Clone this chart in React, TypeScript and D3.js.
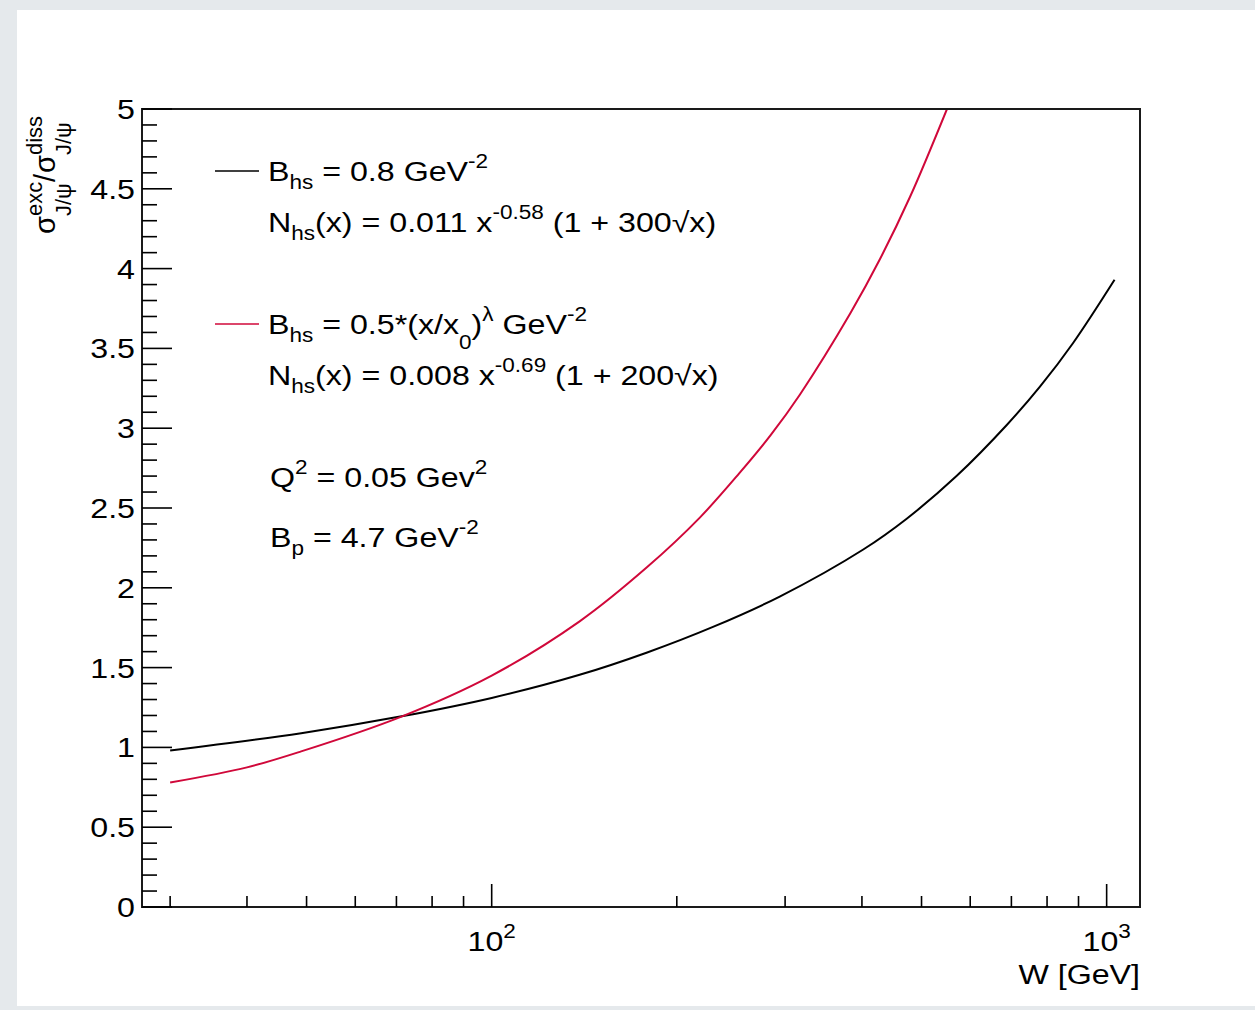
import React from 'react';
import * as d3 from 'd3';

// Ratio of exclusive to dissociative J/psi cross sections vs W
const W_BLACK = [30, 49, 71, 100, 139, 179, 229, 294, 402, 473, 570, 688, 779, 882, 1030];
const RATIO_BLACK = [0.98, 1.089, 1.193, 1.31, 1.455, 1.595, 1.755, 1.945, 2.24, 2.433, 2.7, 3.02, 3.26, 3.534, 3.93];

const W_RED = [30, 40, 49, 71, 100, 139, 179, 218, 253, 284, 317, 383, 428, 479, 550];
const RATIO_RED = [0.78, 0.875, 0.975, 1.19, 1.45, 1.79, 2.13, 2.44, 2.72, 2.955, 3.21, 3.72, 4.06, 4.45, 5.0];

const X_RANGE = [27, 1133];
const Y_RANGE = [0, 5];
const X_MAJOR = [100, 1000];
const X_MAJOR_EXP = ['2', '3'];
const X_MINOR = [30, 40, 50, 60, 70, 80, 90, 200, 300, 400, 500, 600, 700, 800, 900];
const Y_MAJOR = [0, 0.5, 1, 1.5, 2, 2.5, 3, 3.5, 4, 4.5, 5];
const Y_MAJOR_LABELS = ['0', '0.5', '1', '1.5', '2', '2.5', '3', '3.5', '4', '4.5', '5'];

const FONT = "'Liberation Sans', Arial, Helvetica, sans-serif";
const SX = 1.15;
const FS = 28;
const RED = '#d0083a';

type Seg = { t: string; k?: 'sub' | 'sup' | 'low' };

const LEGEND_ROWS: { segs: Seg[]; y: number; line?: string }[] = [
  { segs: [{ t: 'B' }, { t: 'hs', k: 'sub' }, { t: ' = 0.8 GeV' }, { t: '-2', k: 'sup' }], y: 181, line: '#000' },
  {
    segs: [{ t: 'N' }, { t: 'hs', k: 'sub' }, { t: '(x) = 0.011 x' }, { t: '-0.58', k: 'sup' }, { t: ' (1 + 300\u221Ax)' }],
    y: 232,
  },
  {
    segs: [
      { t: 'B' }, { t: 'hs', k: 'sub' }, { t: ' = 0.5*(x/x' }, { t: '0', k: 'low' }, { t: ')' },
      { t: '\u03BB', k: 'sup' }, { t: ' GeV' }, { t: '-2', k: 'sup' },
    ],
    y: 334,
    line: RED,
  },
  {
    segs: [{ t: 'N' }, { t: 'hs', k: 'sub' }, { t: '(x) = 0.008 x' }, { t: '-0.69', k: 'sup' }, { t: ' (1 + 200\u221Ax)' }],
    y: 385,
  },
  { segs: [{ t: 'Q' }, { t: '2', k: 'sup' }, { t: ' = 0.05 Gev' }, { t: '2', k: 'sup' }], y: 487 },
  { segs: [{ t: 'B' }, { t: 'p', k: 'sub' }, { t: ' = 4.7 GeV' }, { t: '-2', k: 'sup' }], y: 547 },
];

function RichText({ segs, size }: { segs: Seg[]; size: number }) {
  let cur = 0;
  return (
    <>
      {segs.map((s, i) => {
        const off = s.k === 'sub' ? size * 0.3 : s.k === 'sup' ? -size * 0.45 : s.k === 'low' ? size * 0.55 : 0;
        const dy = off - cur;
        cur = off;
        return (
          <tspan key={i} dy={dy} fontSize={s.k ? size * 0.7 : size}>
            {s.t}
          </tspan>
        );
      })}
    </>
  );
}

export default function App() {
  const width = 1255;
  const height = 1010;
  const left = 142, right = 1140, top = 109, bottom = 907;

  const x = d3.scaleLog().domain(X_RANGE).range([left, right]);
  const y = d3.scaleLinear().domain(Y_RANGE).range([bottom, top]);

  const line = d3
    .line<[number, number]>()
    .x((d) => x(d[0]))
    .y((d) => y(d[1]))
    .curve(d3.curveCatmullRom.alpha(0.5));

  const blackPath = line(W_BLACK.map((w, i) => [w, RATIO_BLACK[i]] as [number, number])) || '';
  const redPath = line(W_RED.map((w, i) => [w, RATIO_RED[i]] as [number, number])) || '';

  const yMinor = d3.range(0, 51).map((i) => i / 10);

  return (
    <div style={{ position: 'absolute', left: 0, top: 0 }}>
      <svg width={width} height={height} style={{ display: 'block' }} fontFamily={FONT}>
        <rect x={0} y={0} width={width} height={height} fill="#e5e9ec" />
        <rect x={17} y={10} width={width - 17} height={996} fill="#ffffff" />

        <defs>
          <clipPath id="plot-area">
            <rect x={left} y={top} width={right - left} height={bottom - top} />
          </clipPath>
        </defs>

        {/* curves */}
        <g clipPath="url(#plot-area)" fill="none">
          <path d={blackPath} stroke="#000" strokeWidth={2} />
          <path d={redPath} stroke={RED} strokeWidth={2} />
        </g>

        {/* frame */}
        <rect x={left} y={top} width={right - left} height={bottom - top} fill="none" stroke="#1a1a1a" strokeWidth={2} />

        {/* y ticks */}
        {yMinor.map((v, i) => {
          const major = i % 5 === 0;
          return (
            <line key={'yt' + i} x1={left} x2={left + (major ? 30 : 15)} y1={y(v)} y2={y(v)} stroke="#000" strokeWidth={1.6} />
          );
        })}
        {Y_MAJOR.map((v, i) => (
          <text
            key={'yl' + i}
            transform={`translate(135,${y(v) + 10}) scale(${SX},1)`}
            textAnchor="end"
            fontSize={FS}
            fill="#000"
          >
            {Y_MAJOR_LABELS[i]}
          </text>
        ))}

        {/* x ticks */}
        {X_MINOR.map((v, i) => (
          <line key={'xm' + i} x1={x(v)} x2={x(v)} y1={bottom} y2={bottom - 11} stroke="#000" strokeWidth={1.6} />
        ))}
        {X_MAJOR.map((v, i) => (
          <g key={'xM' + i}>
            <line x1={x(v)} x2={x(v)} y1={bottom} y2={bottom - 23} stroke="#000" strokeWidth={1.6} />
            <text transform={`translate(${x(v)},951) scale(${SX},1)`} textAnchor="middle" fontSize={FS} fill="#000">
              <RichText segs={[{ t: '10' }, { t: X_MAJOR_EXP[i], k: 'sup' }]} size={FS} />
            </text>
          </g>
        ))}

        {/* x title */}
        <text transform={`translate(${right},984) scale(${SX},1)`} textAnchor="end" fontSize={FS} fill="#000">
          W [GeV]
        </text>

        {/* y title */}
        <g transform="translate(55,234) rotate(-90)" fill="#000">
          <text x={0} y={0} fontSize={29}>σ</text>
          <text x={18} y={-13} fontSize={22}>exc</text>
          <text x={18} y={16} fontSize={22}>J/ψ</text>
          <text x={52} y={0} fontSize={29}>/</text>
          <text x={61} y={0} fontSize={29}>σ</text>
          <text x={79} y={-13} fontSize={22}>diss</text>
          <text x={79} y={16} fontSize={22}>J/ψ</text>
        </g>

        {/* legend */}
        {LEGEND_ROWS.map((row, i) => (
          <g key={'lg' + i}>
            {row.line && <line x1={215} x2={259} y1={row.y - 10} y2={row.y - 10} stroke={row.line} strokeWidth={1.6} />}
            <text
              transform={`translate(${i >= 4 ? 270 : 268},${row.y}) scale(${SX},1)`}
              fontSize={FS}
              fill="#000"
              style={{ whiteSpace: 'pre' }}
            >
              <RichText segs={row.segs} size={FS} />
            </text>
          </g>
        ))}
      </svg>
    </div>
  );
}
